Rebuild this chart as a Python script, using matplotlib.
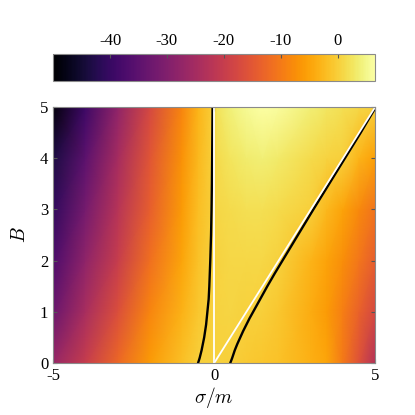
import numpy as np
import matplotlib
matplotlib.use("Agg")
import matplotlib.pyplot as plt

# --- datos ---
sigma_nodos = [-5, -4, -3, -2, -1, -0.5, -0.1, 0.1, 0.5, 1, 1.5, 2, 3, 3.5, 4, 4.5, 5]
B_nodos = [0, 1, 2, 3, 4, 5]

# valor del campo en cada nodo (fila = B, columna = sigma)
V_B0 = [-27, -20, -12.5, -5.8, -1.8, 0.0, 0.35, 0.35, 0.0, -0.5, -1.0, -1.5, -3.5, -4.7, -10, -16, -23]
V_B1 = [-33, -24.5, -16.5, -8.5, -3.3, -0.8, 0.15, 0.5, 0.8, 0.4, 0.0, -0.8, -4.0, -6.0, -9.5, -13.5, -17.5]
V_B2 = [-37, -28, -20, -11.5, -4.8, -1.5, 0.02, 0.6, 0.9, 1.0, 0.9, 0.2, -3.0, -5.0, -7.5, -10.5, -14]
V_B3 = [-40.5, -31.5, -22.5, -13.8, -5.8, -2.0, -0.1, 0.9, 1.5, 1.8, 1.8, 1.4, 0.1, -2.5, -5.0, -8.0, -11]
V_B4 = [-43.5, -35, -25, -15.5, -7.0, -2.5, -0.2, 1.4, 2.6, 3.4, 3.8, 3.2, 1.3, 0.6, 0.0, -3.0, -5.5]
V_B5 = [-49, -39, -28, -17.5, -8.5, -3.0, -0.3, 2.3, 4.0, 5.6, 6.5, 6.0, 3.8, 2.8, 1.8, 0.9, 0.0]

# curvas negras (contorno cero)
izq_sigma = [-0.50, -0.45, -0.39, -0.31, -0.25, -0.21, -0.17, -0.15, -0.12, -0.096, -0.081, -0.07, -0.062, -0.055, -0.049]
izq_B = [0, 0.1, 0.25, 0.5, 0.75, 1.0, 1.25, 1.5, 2.0, 2.5, 3.0, 3.5, 4.0, 4.5, 5.0]
der_sigma = [0.50, 0.56, 0.64, 0.72, 0.81, 0.90, 1.0, 1.10, 1.21, 1.43, 1.65, 1.88, 2.12, 2.36, 2.60, 3.08, 3.57, 4.06, 4.55, 5.02]
der_B = [0, 0.1, 0.25, 0.375, 0.5, 0.625, 0.75, 0.875, 1.0, 1.25, 1.5, 1.75, 2.0, 2.25, 2.5, 3.0, 3.5, 4.0, 4.5, 5.0]

# lineas blancas
blanca_v_sigma = [0, 0]
blanca_v_B = [0, 5]
blanca_d_sigma = [0, 5]
blanca_d_B = [0, 5]

ticks_barra = [-40, -30, -20, -10, 0]

plt.rcParams['font.family'] = ['Liberation Serif', 'DejaVu Serif']
plt.rcParams['mathtext.fontset'] = 'cm'
plt.rcParams['axes.unicode_minus'] = False
plt.rcParams['font.size'] = 12

V = np.array([V_B0, V_B1, V_B2, V_B3, V_B4, V_B5])
S, BB = np.meshgrid(sigma_nodos, B_nodos)

fig = plt.figure(figsize=(4.15, 4.15), dpi=100)
ax = fig.add_axes([0.128, 0.125, 0.776, 0.617])
cax = fig.add_axes([0.128, 0.805, 0.776, 0.066])

malla = ax.pcolormesh(S, BB, V, shading='gouraud', cmap='inferno', vmin=-50, vmax=6.6)

ax.plot(izq_sigma, izq_B, color='black', lw=1.7)
ax.plot(der_sigma, der_B, color='black', lw=1.7)
ax.plot(blanca_v_sigma, blanca_v_B, color='white', lw=1.3)
ax.plot(blanca_d_sigma, blanca_d_B, color='white', lw=1.3)

ax.set_xlim(-5, 5)
ax.set_ylim(0, 5)
ax.set_xticks([-5, 0, 5])
ax.set_yticks([0, 1, 2, 3, 4, 5])
ax.tick_params(direction='in', top=True, right=True, length=3, color='#555555')
ax.set_xlabel(r'$\sigma/m$', fontsize=14, labelpad=1)
ax.set_ylabel(r'$B$', fontsize=14, labelpad=8)
for sp in ax.spines.values():
    sp.set_color('#8a8a8a')

cb = fig.colorbar(malla, cax=cax, orientation='horizontal')
cb.set_ticks(ticks_barra)
cax.xaxis.set_ticks_position('top')
cax.xaxis.set_label_position('top')
cax.tick_params(direction='in', length=3, color='#555555')
cb.outline.set_edgecolor('#8a8a8a')

plt.savefig('out.png', dpi=100)
